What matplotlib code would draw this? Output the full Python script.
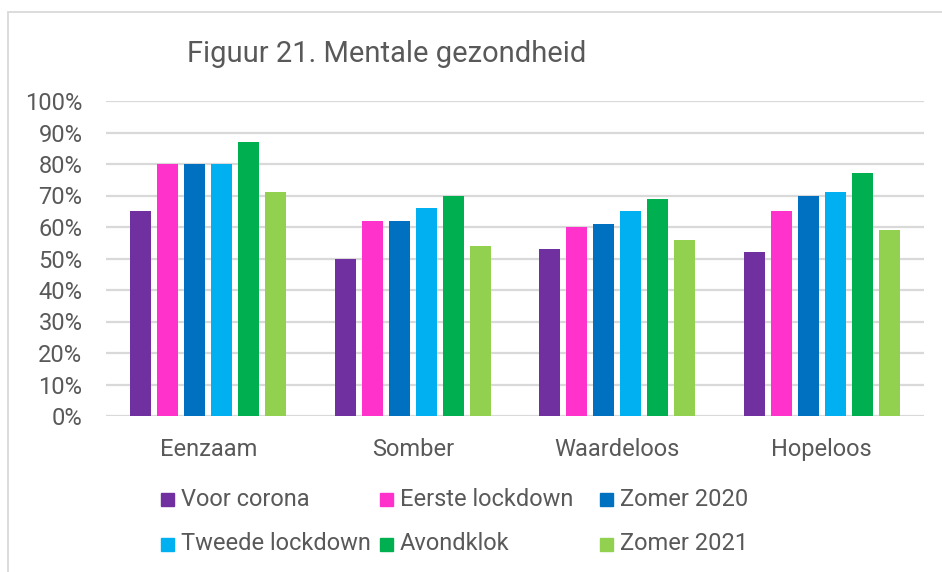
import numpy as np
import matplotlib.pyplot as plt
from matplotlib.patches import Rectangle

plt.rcParams['font.family'] = ['Roboto', 'DejaVu Sans']

categories = ["Eenzaam", "Somber", "Waardeloos", "Hopeloos"]
series = ["Voor corona", "Eerste lockdown", "Zomer 2020",
          "Tweede lockdown", "Avondklok", "Zomer 2021"]
voor_corona = [65, 50, 53, 52]
eerste_lockdown = [80, 62, 60, 65]
zomer_2020 = [80, 62, 61, 70]
tweede_lockdown = [80, 66, 65, 71]
avondklok = [87, 70, 69, 77]
zomer_2021 = [71, 54, 56, 59]
values = [voor_corona, eerste_lockdown, zomer_2020,
          tweede_lockdown, avondklok, zomer_2021]
colors = ["#7030A0", "#FF33CC", "#0070C0", "#00B0F0", "#00B050", "#92D050"]
yticks = np.arange(0, 101, 10)

text_col = "#595959"
grid_col = "#D9D9D9"

fig = plt.figure(figsize=(9.42, 5.72), dpi=100)
ax = fig.add_axes([106 / 942, 1 - 416 / 572, 818 / 942, 315 / 572])

x = np.arange(len(categories))
step = 0.132
width = 0.103
for i, (name, vals, c) in enumerate(zip(series, values, colors)):
    ax.bar(x + (i - 2.5) * step, vals, width, color=c, label=name, zorder=3)

ax.set_xlim(-0.5, len(categories) - 0.5)
ax.set_ylim(0, 100)
ax.set_yticks(yticks)
ax.set_yticklabels([f"{v}%" for v in yticks])
ax.set_xticks(x)
ax.set_xticklabels(categories)
ax.tick_params(axis='y', length=0, pad=17, labelsize=17, labelcolor=text_col)
ax.tick_params(axis='x', length=0, pad=16, labelsize=17, labelcolor=text_col)
ax.grid(axis='y', color=grid_col, linewidth=1.6, zorder=0)
for s in ax.spines.values():
    s.set_visible(False)

fig.text(187 / 942, 1 - 54 / 572, "Figuur 21. Mentale gezondheid",
         fontsize=21, color=text_col, va='center', ha='left')

# legend: 2 rows x 3 columns, drawn by hand to match the spacing
col_x = [161, 380, 600]
row_y = [499, 544]
for i, (name, c) in enumerate(zip(series, colors)):
    px = col_x[i % 3]
    py = row_y[i // 3]
    fig.patches.append(Rectangle((px / 942, 1 - (py + 6.5) / 572), 13 / 942, 13 / 572,
                                 transform=fig.transFigure, color=c))
    fig.text((px + 20) / 942, 1 - py / 572, name, fontsize=17,
             color=text_col, va='center', ha='left')

# chart frame
fig.patches.append(Rectangle((8 / 942, -0.1), 1.2, 1 - 12 / 572 + 0.1,
                             transform=fig.transFigure, fill=False,
                             edgecolor=grid_col, linewidth=1.3))

fig.savefig("out.png", dpi=100)
